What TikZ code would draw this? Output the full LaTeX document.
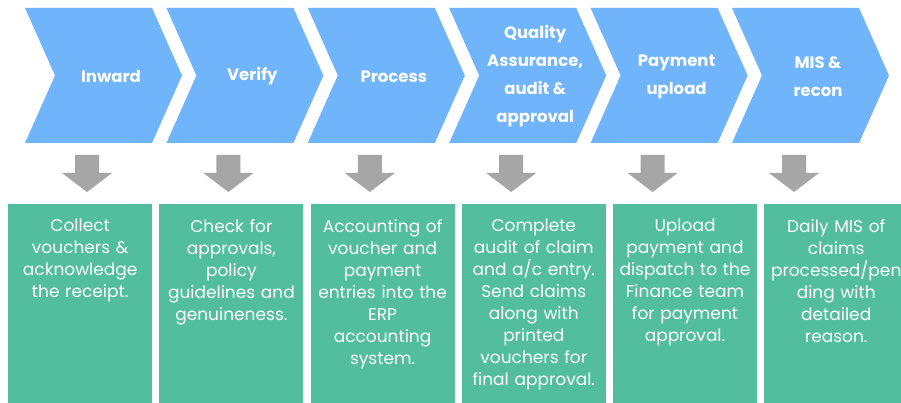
\documentclass[tikz,border=0pt]{standalone}
\usepackage{fontspec}
\setmainfont{Poppins}
\definecolor{chevblue}{HTML}{70B4FC}
\definecolor{boxgreen}{HTML}{52BE9E}
\definecolor{arrgray}{HTML}{A6A6A6}
\tikzset{
  chevtext/.style={text=white, align=center, inner sep=0pt, font=\bfseries\fontsize{16.5}{28}\selectfont},
  boxtext/.style={text=white, align=center, inner sep=0pt, anchor=north, text width=146pt, font=\fontsize{17}{22}\selectfont},
  stepbox/.style={fill=boxgreen, draw=none, anchor=north west, minimum width=144pt, minimum height=199pt, inner sep=0pt},
}
\begin{document}
\begin{tikzpicture}[x=1pt,y=-1pt]
\useasboundingbox (0,0) rectangle (901,403);
\fill[white] (0,0) rectangle (901,403);
% chevrons
\foreach \i/\t in {0/Inward,1/Verify,2/Process,3/{Quality\\Assurance,\\audit \&\\approval},4/{Payment\\upload},5/{MIS \&\\recon}}{
  \pgfmathsetmacro{\L}{25+141.4*\i}
  \fill[chevblue] (\L,8) -- ++(127,0) -- ++(30,67.5) -- ++(-30,67.5) -- ++(-127,0) -- ++(30,-67.5) -- cycle;
  \node[chevtext] (c\i) at (\L+86,76.5) {\t};
  % down arrow
  \pgfmathsetmacro{\A}{\L+62}
  \fill[arrgray] (\A-12,155) -- (\A+12,155) -- (\A+12,173) -- (\A+25,173) -- (\A,192) -- (\A-25,173) -- (\A-12,173) -- cycle;
}
% boxes
\foreach \i/\t in {0/{Collect\\vouchers \&\\acknowledge\\the receipt.},
  1/{Check for\\approvals,\\policy\\guidelines and\\genuineness.},
  2/{Accounting of\\voucher and\\payment\\entries into the\\ERP\\accounting\\system.},
  3/{Complete\\audit of claim\\and a/c entry.\\Send claims\\along with\\printed\\vouchers for\\final approval.},
  4/{Upload\\payment and\\dispatch to the\\Finance team\\for payment\\approval.},
  5/{Daily MIS of\\claims\\processed/pen\\ding with\\detailed\\reason.}}{
  \pgfmathsetmacro{\B}{8+151.2*\i}
  \node[stepbox] (b\i) at (\B,204) {};
  \node[boxtext] (t\i) at ([yshift=-15pt]b\i.north) {\t};
}
\end{tikzpicture}
\end{document}
